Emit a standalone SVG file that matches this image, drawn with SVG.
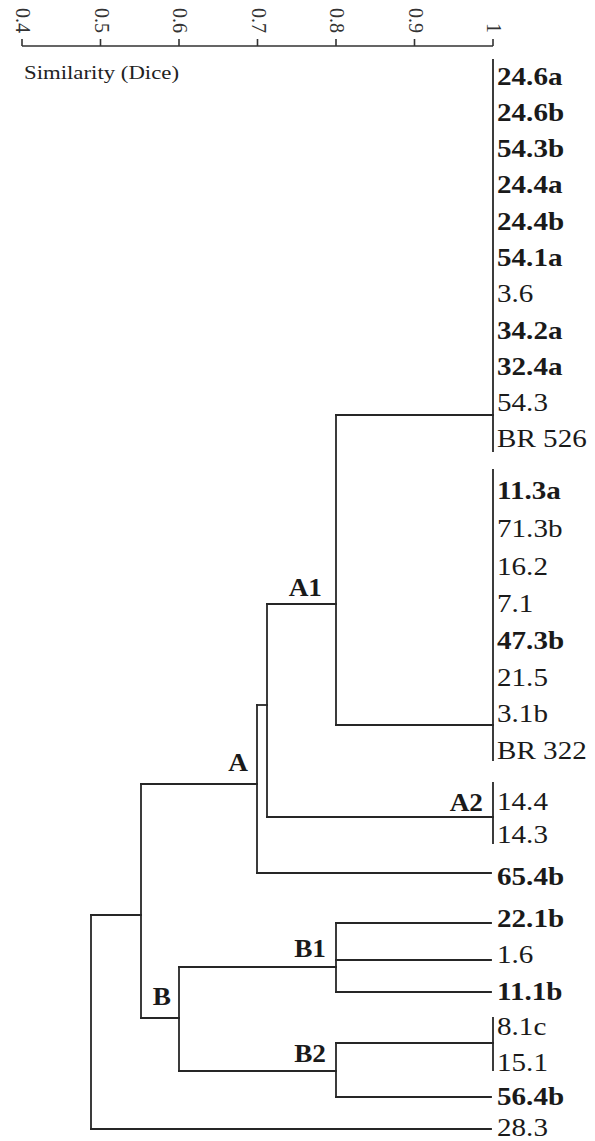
<svg xmlns="http://www.w3.org/2000/svg" width="595" height="1141" viewBox="0 0 595 1141">
<style>
.bg{fill:#ffffff}
.ln{fill:none;stroke:#262626;stroke-width:1.8;stroke-linecap:square}
.ax{fill:none;stroke:#333333;stroke-width:1.6}
.tk{font-family:"Liberation Serif","Times New Roman",serif;font-size:20px;fill:#333333}
.ttl{font-family:"Liberation Serif","Times New Roman",serif;font-size:19px;fill:#222222}
.lf{font-family:"Liberation Serif","Times New Roman",serif;font-size:26px;fill:#1a1a1a}
.b{font-weight:bold}
.nl{font-family:"Liberation Serif","Times New Roman",serif;font-size:26px;fill:#1a1a1a}
</style>
<rect class="bg" x="0" y="0" width="595" height="1141"/>
<g id="axis">
<path class="ax" d="M22,46 H493 M22,39 V46 M100.5,39 V46 M179,39 V46 M257.5,39 V46 M336,39 V46 M414.5,39 V46 M493,39 V46"/>
<text class="tk" text-anchor="end" transform="translate(16,33) rotate(90)">0.4</text>
<text class="tk" text-anchor="end" transform="translate(94.5,33) rotate(90)">0.5</text>
<text class="tk" text-anchor="end" transform="translate(173,33) rotate(90)">0.6</text>
<text class="tk" text-anchor="end" transform="translate(251.5,33) rotate(90)">0.7</text>
<text class="tk" text-anchor="end" transform="translate(330,33) rotate(90)">0.8</text>
<text class="tk" text-anchor="end" transform="translate(408.5,33) rotate(90)">0.9</text>
<text class="tk" text-anchor="end" transform="translate(487,33) rotate(90)">1</text>
<text class="ttl" x="24" y="79" textLength="155" lengthAdjust="spacingAndGlyphs">Similarity (Dice)</text>
</g>
<g id="connectors">
<path class="ln" d="M493,60 V451"/>
<path class="ln" d="M336,415 H493"/>
<path class="ln" d="M493,470 V760"/>
<path class="ln" d="M336,725 H493"/>
<path class="ln" d="M336,415 V725"/>
<path class="ln" d="M267,604 H336"/>
<path class="ln" d="M493,783 V843"/>
<path class="ln" d="M267,817 H493"/>
<path class="ln" d="M267,604 V817"/>
<path class="ln" d="M257,705 H267"/>
<path class="ln" d="M257,705 V873"/>
<path class="ln" d="M257,873 H491"/>
<path class="ln" d="M141,784 H257"/>
<path class="ln" d="M336,923 H491"/>
<path class="ln" d="M336,960 H491"/>
<path class="ln" d="M336,992 H491"/>
<path class="ln" d="M336,923 V992"/>
<path class="ln" d="M179,967 H336"/>
<path class="ln" d="M493,1018 V1070"/>
<path class="ln" d="M336,1043 H493"/>
<path class="ln" d="M336,1097 H491"/>
<path class="ln" d="M336,1043 V1097"/>
<path class="ln" d="M179,1071 H336"/>
<path class="ln" d="M179,967 V1071"/>
<path class="ln" d="M141,1018 H179"/>
<path class="ln" d="M141,784 V1018"/>
<path class="ln" d="M91,915 H141"/>
<path class="ln" d="M91,915 V1129"/>
<path class="ln" d="M91,1129 H491"/>
</g>
<g id="leaves" transform="translate(497,0) scale(1.12,1)">
<g id="leaf-24-6a"><text class="lf b" x="0" y="85">24.6a</text></g>
<g id="leaf-24-6b"><text class="lf b" x="0" y="121">24.6b</text></g>
<g id="leaf-54-3b"><text class="lf b" x="0" y="157">54.3b</text></g>
<g id="leaf-24-4a"><text class="lf b" x="0" y="193">24.4a</text></g>
<g id="leaf-24-4b"><text class="lf b" x="0" y="230">24.4b</text></g>
<g id="leaf-54-1a"><text class="lf b" x="0" y="266">54.1a</text></g>
<g id="leaf-3-6"><text class="lf" x="0" y="302">3.6</text></g>
<g id="leaf-34-2a"><text class="lf b" x="0" y="339">34.2a</text></g>
<g id="leaf-32-4a"><text class="lf b" x="0" y="375">32.4a</text></g>
<g id="leaf-54-3"><text class="lf" x="0" y="411">54.3</text></g>
<g id="leaf-br526"><text class="lf" x="0" y="447">BR 526</text></g>
<g id="leaf-11-3a"><text class="lf b" x="0" y="499">11.3a</text></g>
<g id="leaf-71-3b"><text class="lf" x="0" y="537">71.3b</text></g>
<g id="leaf-16-2"><text class="lf" x="0" y="575">16.2</text></g>
<g id="leaf-7-1"><text class="lf" x="0" y="612">7.1</text></g>
<g id="leaf-47-3b"><text class="lf b" x="0" y="649">47.3b</text></g>
<g id="leaf-21-5"><text class="lf" x="0" y="686">21.5</text></g>
<g id="leaf-3-1b"><text class="lf" x="0" y="722">3.1b</text></g>
<g id="leaf-br322"><text class="lf" x="0" y="759">BR 322</text></g>
<g id="leaf-14-4"><text class="lf" x="0" y="810">14.4</text></g>
<g id="leaf-14-3"><text class="lf" x="0" y="843">14.3</text></g>
<g id="leaf-65-4b"><text class="lf b" x="0" y="885">65.4b</text></g>
<g id="leaf-22-1b"><text class="lf b" x="0" y="927">22.1b</text></g>
<g id="leaf-1-6"><text class="lf" x="0" y="963">1.6</text></g>
<g id="leaf-11-1b"><text class="lf b" x="0" y="1000">11.1b</text></g>
<g id="leaf-8-1c"><text class="lf" x="0" y="1035">8.1c</text></g>
<g id="leaf-15-1"><text class="lf" x="0" y="1071">15.1</text></g>
<g id="leaf-56-4b"><text class="lf b" x="0" y="1105">56.4b</text></g>
<g id="leaf-28-3"><text class="lf" x="0" y="1136">28.3</text></g>
</g>
<g id="node-A1"><text class="nl b" text-anchor="end" transform="translate(322,596) scale(1.05,1)">A1</text></g>
<g id="node-A"><text class="nl b" text-anchor="end" transform="translate(248,771) scale(1.05,1)">A</text></g>
<g id="node-A2"><text class="nl b" text-anchor="end" transform="translate(483,811) scale(1.05,1)">A2</text></g>
<g id="node-B1"><text class="nl b" text-anchor="end" transform="translate(326,957) scale(1.05,1)">B1</text></g>
<g id="node-B"><text class="nl b" text-anchor="end" transform="translate(171,1005) scale(1.05,1)">B</text></g>
<g id="node-B2"><text class="nl b" text-anchor="end" transform="translate(326,1062) scale(1.05,1)">B2</text></g>
</svg>
